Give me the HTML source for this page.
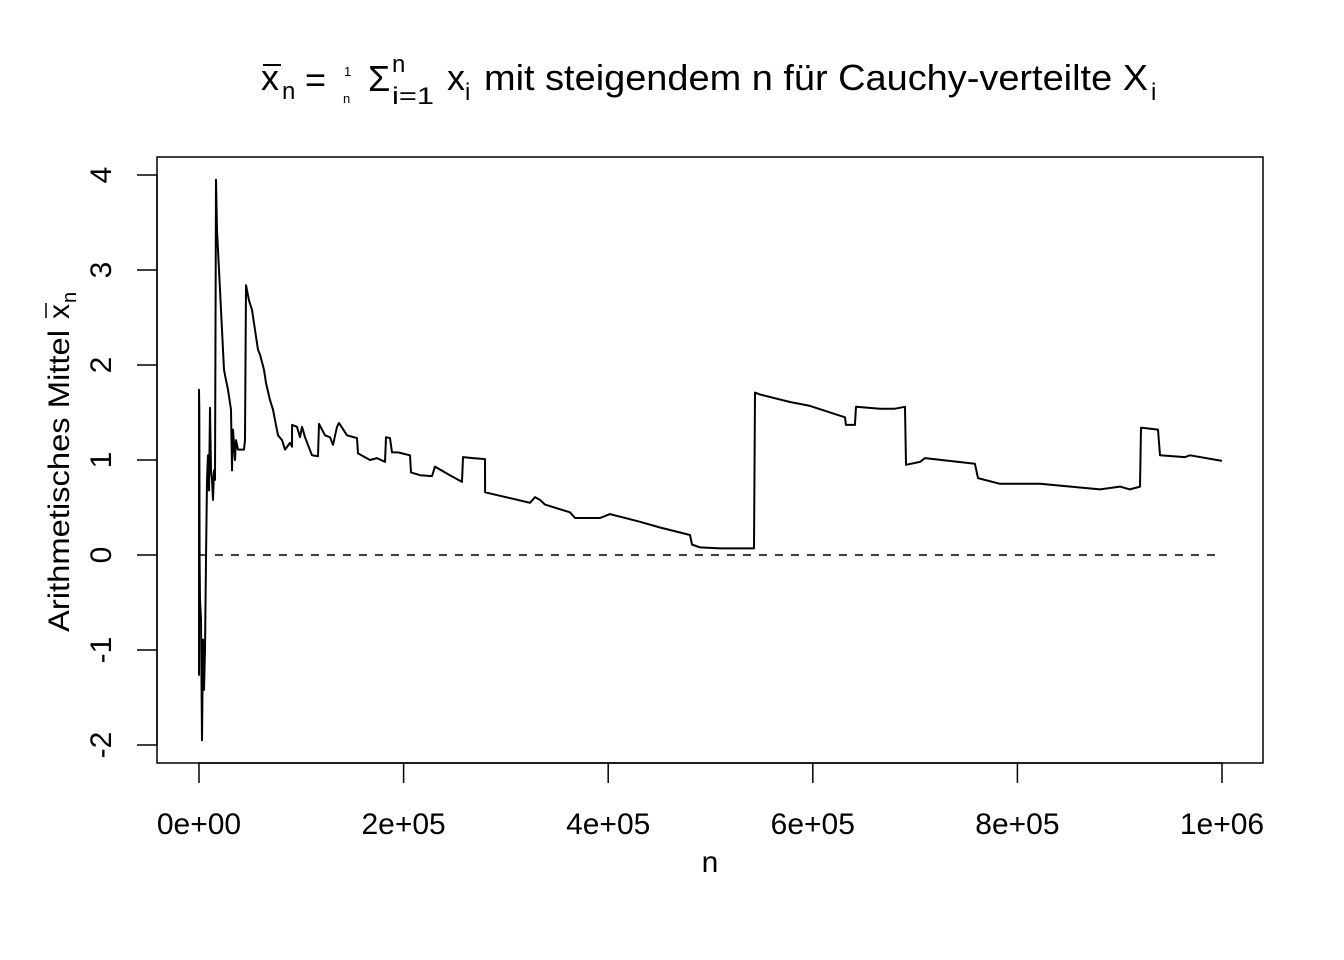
<!DOCTYPE html>
<html><head><meta charset="utf-8"><style>
html,body{margin:0;padding:0;background:#fff;}
svg{display:block;font-family:"Liberation Sans",Arial,sans-serif;}
</style></head><body>
<svg id="chart" width="1344" height="960" viewBox="0 0 1344 960">
<rect width="1344" height="960" fill="#fff"/>
<g id="title" fill="#000">
  <text x="261" y="90" font-size="36">x</text>
  <line x1="263" y1="65" x2="281" y2="65" stroke="#000" stroke-width="2"/>
  <text x="282" y="99" font-size="24">n</text>
  <text x="305" y="92" font-size="36">=</text>
  <text x="344" y="76" font-size="13">1</text>
  <text x="343" y="103" font-size="13">n</text>
  <text x="368" y="91" font-size="36">Σ</text>
  <text x="392" y="72" font-size="24">n</text>
  <text x="392" y="104" font-size="24" textLength="42" lengthAdjust="spacingAndGlyphs">i=1</text>
  <text x="447" y="90" font-size="36">x</text>
  <text x="465" y="100" font-size="24">i</text>
  <text x="484" y="90" font-size="36" textLength="664" lengthAdjust="spacingAndGlyphs">mit steigendem n für Cauchy-verteilte X</text>
  <text x="1151" y="100" font-size="24">i</text>
</g>
<rect x="157" y="157" width="1106" height="606" fill="none" stroke="#000" stroke-width="1.5"/>
<g id="xaxis"></g>
<g id="yaxis"></g>
<text x="710" y="872" font-size="30" text-anchor="middle">n</text>
<g transform="translate(69,460) rotate(-90)">
  <text x="-172" y="0" font-size="30" textLength="302" lengthAdjust="spacingAndGlyphs">Arithmetisches Mittel</text>
  <text x="141" y="0" font-size="30">x</text>
  <line x1="142" y1="-23" x2="157" y2="-23" stroke="#000" stroke-width="1.5"/>
  <text x="157" y="7" font-size="20">n</text>
</g>
<line id="zeroline" stroke="#000" stroke-width="1.5" stroke-dasharray="8,8"/>
<path id="series" fill="none" stroke="#000" stroke-width="2" stroke-linejoin="round"/>
</svg>
<script>
const nThousands=[0,0,0.3,0.6,1.0,2.0,2.9,3.9,4.9,5.9,6.8,7.8,8.8,9.8,10.8,11.7,12.7,13.7,14.7,15.6,16.6,17.6,20.5,22.5,24.4,26.4,28.3,31.3,32.3,33.2,35.2,36.2,38.1,40.1,44.0,45.0,45.9,48.9,51.8,54.7,57.7,59.6,61.6,63.5,65.5,69.4,72.3,74.3,77.2,81.1,84.1,89.0,90.9,91.0,95.8,98.7,100.7,103.6,110.5,116.3,117.3,123.2,128.1,131.0,134.9,136.9,144.7,154.4,155.4,167.2,174.0,181.8,182.8,186.7,188.7,194.5,206.3,207.2,216.0,227.8,230.7,245.3,257.1,258.1,267.8,279.6,279.7,323.6,328.4,333.3,338.2,362.7,367.5,392.0,401.8,431.1,450.6,480.0,481.9,489.7,509.3,542.5,543.5,548.4,577.7,597.3,631.5,632.4,641.2,642.2,665.7,680.3,690.1,691.1,704.8,709.7,758.5,761.5,783.0,822.1,841.6,880.7,900.3,910.0,919.8,920.8,937.4,939.4,963.8,968.7,1000];
const meanValues=[-1.27,1.74,1.53,-0.05,-0.47,-0.68,-1.95,-0.89,-1.42,-1.00,-0.05,0.79,1.05,0.68,1.55,0.89,0.79,0.58,0.89,0.79,3.95,3.42,2.79,2.37,1.95,1.84,1.74,1.53,0.89,1.32,1.00,1.21,1.11,1.11,1.11,1.21,2.84,2.68,2.58,2.37,2.16,2.11,2.03,1.95,1.81,1.63,1.53,1.42,1.26,1.21,1.11,1.18,1.14,1.37,1.35,1.24,1.35,1.24,1.05,1.04,1.38,1.26,1.24,1.16,1.35,1.39,1.26,1.23,1.07,1.00,1.02,0.98,1.24,1.23,1.08,1.08,1.05,0.87,0.84,0.83,0.93,0.84,0.77,1.03,1.02,1.01,0.66,0.55,0.61,0.58,0.53,0.45,0.39,0.39,0.43,0.35,0.29,0.21,0.11,0.08,0.07,0.07,1.71,1.69,1.61,1.57,1.45,1.37,1.37,1.56,1.54,1.54,1.56,0.95,0.98,1.02,0.96,0.81,0.75,0.75,0.73,0.69,0.72,0.69,0.72,1.34,1.32,1.05,1.03,1.05,0.99];
const xTicks=[0,200000,400000,600000,800000,1000000];
const xTickLabels=["0e+00","2e+05","4e+05","6e+05","8e+05","1e+06"];
const yTicks=[-2,-1,0,1,2,3,4];
const yTickLabels=["-2","-1","0","1","2","3","4"];
const NS="http://www.w3.org/2000/svg";
const sx=n=>199+n/1e6*1023;
const sy=v=>555-v*95;
function mk(tag,attrs,parent){const e=document.createElementNS(NS,tag);for(const k in attrs)e.setAttribute(k,attrs[k]);parent.appendChild(e);return e;}
const xg=document.getElementById('xaxis');
mk('line',{x1:sx(xTicks[0]),x2:sx(xTicks[xTicks.length-1]),y1:763,y2:763,stroke:'#000','stroke-width':1.5},xg);
xTicks.forEach((t,i)=>{
  const l=mk('line',{x1:sx(t),x2:sx(t),y1:763,y2:783,stroke:'#000','stroke-width':1.5},xg);
  
  
  const tx=mk('text',{x:sx(t),y:834,'font-size':30,'text-anchor':'middle'},xg);
  tx.textContent=xTickLabels[i];
  
  
});
const yg=document.getElementById('yaxis');
mk('line',{x1:157,x2:157,y1:sy(yTicks[0]),y2:sy(yTicks[yTicks.length-1]),stroke:'#000','stroke-width':1.5},yg);
yTicks.forEach((t,i)=>{
  const l=mk('line',{x1:137,x2:157,y1:sy(t),y2:sy(t),stroke:'#000','stroke-width':1.5},yg);
  
  
  const tx=mk('text',{x:0,y:0,'font-size':30,'text-anchor':'middle',transform:`translate(111,${sy(t)}) rotate(-90)`},yg);
  tx.textContent=yTickLabels[i];
  
  
});
const z=document.getElementById('zeroline');
z.setAttribute('x1',sx(0));z.setAttribute('x2',sx(1e6));z.setAttribute('y1',sy(0));z.setAttribute('y2',sy(0));
let d='';
nThousands.forEach((n,i)=>{d+=(i?'L':'M')+sx(n*1000).toFixed(1)+','+sy(meanValues[i]).toFixed(1);});
document.getElementById('series').setAttribute('d',d);
</script>
</body></html>
